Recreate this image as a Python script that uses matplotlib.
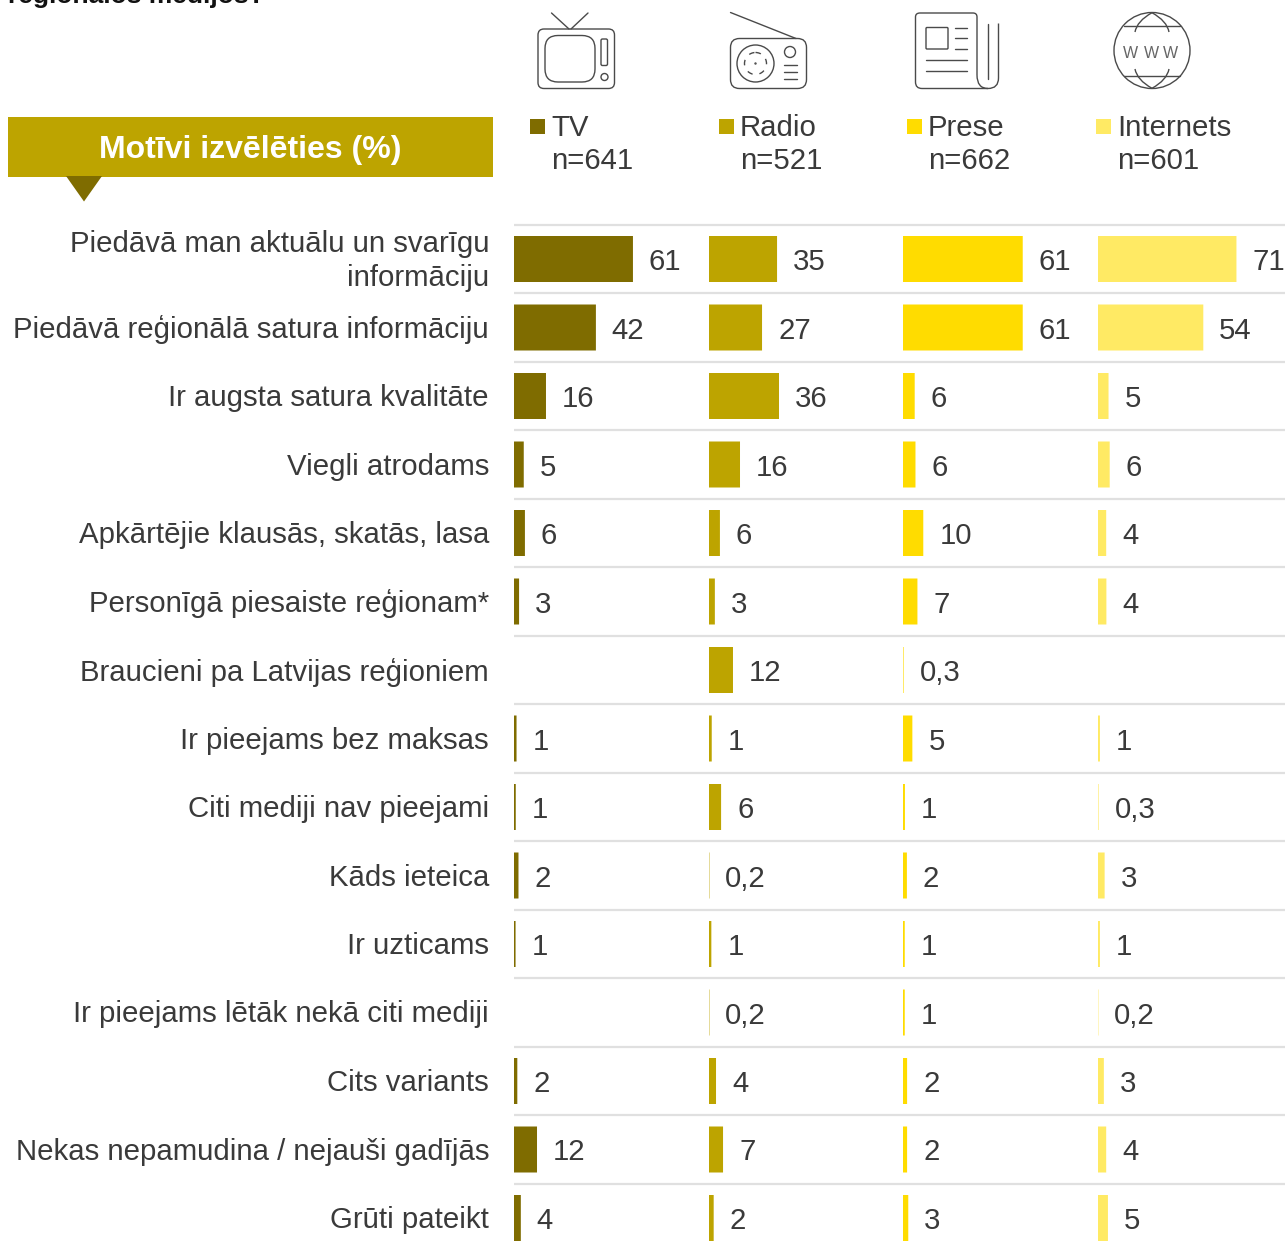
import numpy as np
import matplotlib
matplotlib.use("Agg")
import matplotlib.pyplot as plt
from matplotlib.patches import Rectangle, Polygon, Circle, FancyBboxPatch, PathPatch
from matplotlib.path import Path

plt.rcParams['font.family'] = ['Liberation Sans', 'DejaVu Sans']

motives = [
    "Piedāvā man aktuālu un svarīgu\ninformāciju",
    "Piedāvā reģionālā satura informāciju",
    "Ir augsta satura kvalitāte",
    "Viegli atrodams",
    "Apkārtējie klausās, skatās, lasa",
    "Personīgā piesaiste reģionam*",
    "Braucieni pa Latvijas reģioniem",
    "Ir pieejams bez maksas",
    "Citi mediji nav pieejami",
    "Kāds ieteica",
    "Ir uzticams",
    "Ir pieejams lētāk nekā citi mediji",
    "Cits variants",
    "Nekas nepamudina / nejauši gadījās",
    "Grūti pateikt",
]

media = ["TV", "Radio", "Prese", "Internets"]
sample_sizes = ["n=641", "n=521", "n=662", "n=601"]
colors = ["#7F6C00", "#BDA400", "#FFDC00", "#FFEA64"]

tv = [61, 42, 16.4, 5, 5.6, 2.6, np.nan, 1.3, 0.9, 2.3, 0.8, np.nan, 1.7, 11.8, 3.5]
radio = [34.9, 27.2, 35.9, 15.9, 5.6, 3, 12.3, 1.4, 6.2, 0.2, 1.2, 0.2, 3.6, 7.2, 2.4]
prese = [61.4, 61.4, 6, 6.4, 10.4, 7.4, 0.3, 4.8, 1, 2, 0.9, 0.9, 2.1, 2.1, 2.7]
internets = [71, 54, 5.4, 6, 4.2, 4.3, np.nan, 1, 0.3, 3.4, 1, 0.2, 3, 4.2, 5.1]
series = [tv, radio, prese, internets]

W, H = 1285, 1245
TEXT = "#3A3A3A"
ICON = "#4A4A4A"
FS = 21.15


def value_label(v):
    if np.isnan(v):
        return ""
    if v < 0.5:
        return str(v).replace(".", ",")
    return str(round(v))


fig = plt.figure(figsize=(W / 100, H / 100), dpi=100)

# four panels sit side by side, 1.95 px per percent
panel_left = [514, 709, 903, 1098]
panel_right = [709, 903, 1098, 1285]
top, bottom = 225, 1245
row_h = 68.5

for i in range(4):
    ax = fig.add_axes([panel_left[i] / W, 1 - bottom / H,
                       (panel_right[i] - panel_left[i]) / W, (bottom - top) / H])
    y = np.arange(len(motives))
    bars = ax.barh(y, series[i], height=46 / row_h, color=colors[i], snap=False)
    labels = ax.bar_label(bars, labels=[value_label(v) for v in series[i]], padding=11.5,
                          fontsize=FS, color=TEXT)
    for t in labels:
        t.set_va("center_baseline")
    ax.set_xlim(0, (panel_right[i] - panel_left[i]) / 1.95)
    ax.set_ylim((bottom - 259) / row_h, (top - 259) / row_h)
    for sep in np.arange(len(motives)) - 0.5:
        ax.axhline(sep, color="#E0E0E0", lw=1.6, zorder=0, clip_on=False, solid_capstyle="butt")
    ax.set_xticks([])
    ax.patch.set_alpha(0)
    for s in ax.spines.values():
        s.set_visible(False)
    if i == 0:
        # labels sit a little above the bar centres, the wrapped one more so
        tick_pos = y - 1 / row_h
        tick_pos[0] = -4 / row_h
        ax.set_yticks(tick_pos)
        ax.set_yticklabels(motives, fontsize=FS, color=TEXT, ha="right", linespacing=1.27)
        ax.tick_params(axis="y", length=0, pad=18)
    else:
        ax.set_yticks([])

# overlay in pixel coordinates for header, legend and icons
ov = fig.add_axes([0, 0, 1, 1])
ov.set_xlim(0, W)
ov.set_ylim(H, 0)
ov.axis("off")
ov.patch.set_alpha(0)

ov.text(8, 3.5, "reģionālos medijos?", fontsize=19, fontweight="bold", color="#111111",
        ha="left", va="baseline")

ov.add_patch(Rectangle((8, 117), 485, 60, color="#BDA400", lw=0))
ov.add_patch(Polygon([(66, 176), (102, 176), (84, 201.5)], color="#7F6C00", lw=0))
ov.text(250.5, 146.5, "Motīvi izvēlēties (%)", fontsize=23, fontweight="bold", color="white",
        ha="center", va="center_baseline")

legend_x = [530, 719, 907, 1096]
for i in range(4):
    ov.add_patch(Rectangle((legend_x[i], 119), 15, 15, color=colors[i], lw=0))
    ov.text(legend_x[i] + 21, 125, media[i], fontsize=FS, color=TEXT, ha="left", va="center_baseline")
    ov.text(legend_x[i] + 21, 158, sample_sizes[i], fontsize=FS, color=TEXT, ha="left", va="center_baseline")


def box(x0, y0, x1, y1, r, lw=1.0):
    ov.add_patch(FancyBboxPatch((x0 + r, y0 + r), x1 - x0 - 2 * r, y1 - y0 - 2 * r,
                                boxstyle="round,pad=%f,rounding_size=%f" % (r, r),
                                fc="none", ec=ICON, lw=lw))


def line(xs, ys, lw=1.0, **kw):
    ov.plot(xs, ys, color=ICON, lw=lw, solid_capstyle="round", **kw)


def circle(x, y, r, lw=1.0, **kw):
    ov.add_patch(Circle((x, y), r, fc="none", ec=ICON, lw=lw, **kw))


def curve(p0, c, p1, lw=1.0):
    ov.add_patch(PathPatch(Path([p0, c, p1], [Path.MOVETO, Path.CURVE3, Path.CURVE3]),
                           fc="none", ec=ICON, lw=lw))


# TV icon
box(538, 29, 614.5, 88.5, 6)
box(545, 35.5, 595, 82, 13)
box(601, 39, 607.5, 65.5, 1.5)
circle(604.5, 77, 3.5)
line([551.5, 569], [13, 29])
line([588, 571], [13, 29])

# radio icon
box(730.5, 38.5, 806.5, 88.5, 9)
line([730.5, 796], [12.5, 38.5])
circle(755.5, 63.5, 18.5)
circle(755.5, 63.5, 11, ls=(0, (4, 5)))
circle(755.5, 63.5, 0.5)
circle(790, 52, 5.5)
for yy in [65, 71.5, 78.5]:
    line([783.5, 796.5], [yy, yy])

# newspaper icon
page = Path([(977, 75), (977, 17), (977, 13), (973, 13), (920, 13), (915.5, 13), (915.5, 17),
             (915.5, 82), (915.5, 88.5), (922, 88.5), (988, 88.5), (998.5, 88.5), (998.5, 78),
             (998.5, 23.5)],
            [Path.MOVETO, Path.LINETO, Path.CURVE3, Path.CURVE3, Path.LINETO, Path.CURVE3, Path.CURVE3,
             Path.LINETO, Path.CURVE3, Path.CURVE3, Path.LINETO, Path.CURVE3, Path.CURVE3,
             Path.LINETO])
ov.add_patch(PathPatch(page, fc="none", ec=ICON, lw=1.0))
curve((977, 75), (977, 88.5), (988, 88.5))
line([987.5, 987.5], [23.5, 79])
box(926, 27.5, 948, 49, 1)
for yy in [27.5, 38, 48.5]:
    line([955, 966.5], [yy, yy])
for yy in [60, 70.5]:
    line([926, 966.5], [yy, yy])

# globe icon
circle(1152, 50.5, 38)
line([1124, 1180], [25.5, 25.5])
line([1124, 1180], [75.5, 75.5])
curve((1152, 12.7), (1137, 21), (1135, 32))
curve((1152, 12.7), (1167, 21), (1169, 32))
curve((1152, 88.3), (1137, 80), (1135, 69))
curve((1152, 88.3), (1167, 80), (1169, 69))
for wx in [1130, 1151, 1170]:
    ov.text(wx, 52.5, "W", fontsize=11.5, color="#666666", ha="center", va="center_baseline")

fig.savefig("out.png", dpi=100)
